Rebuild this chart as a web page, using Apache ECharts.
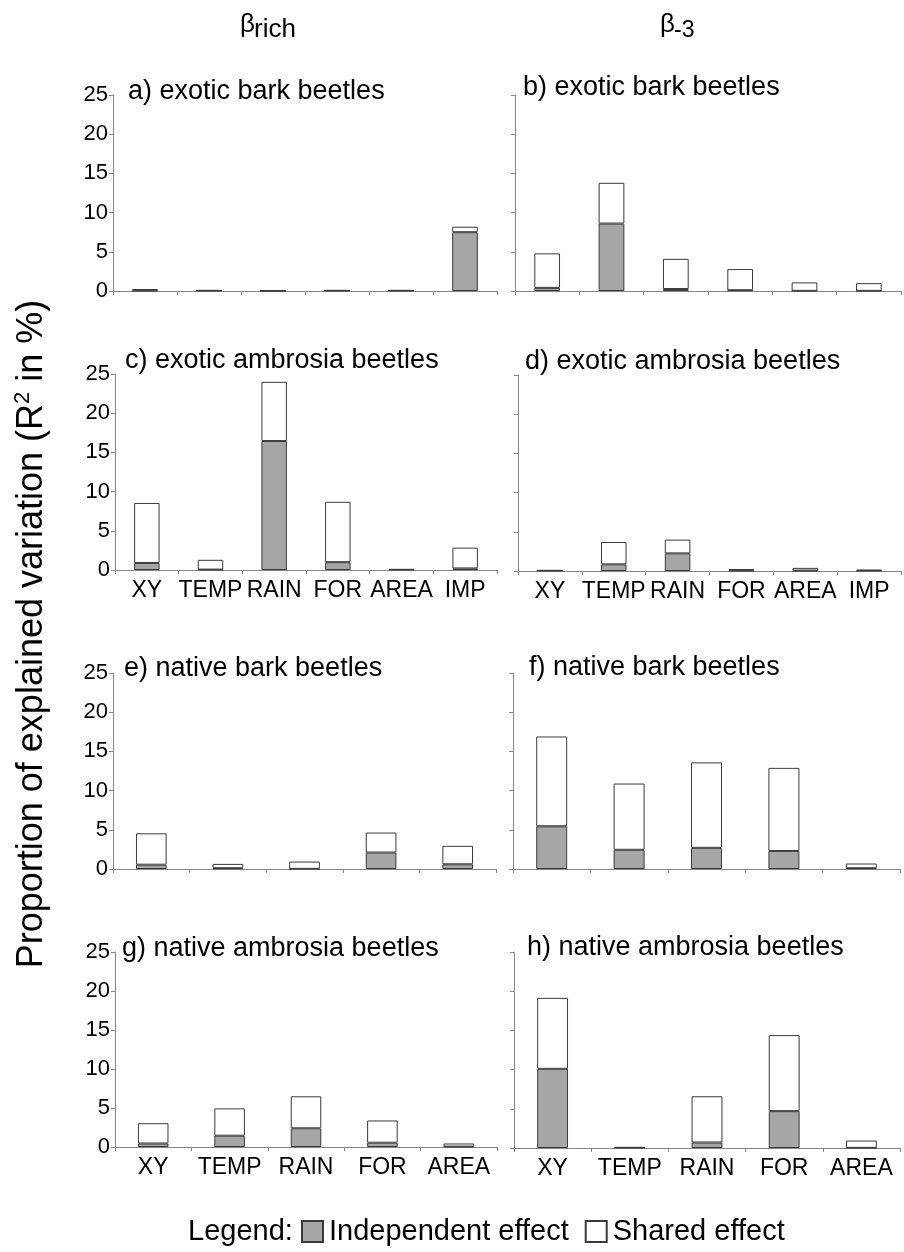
<!DOCTYPE html>
<html>
<head>
<meta charset="utf-8">
<script src="https://cdn.jsdelivr.net/npm/echarts@6/dist/echarts.min.js"></script>
<style>
  html, body { margin: 0; padding: 0; background: #ffffff; }
  #chart { width: 904px; height: 1252px; }
</style>
</head>
<body>
<div id="chart"></div>
<script>
// Predictor categories
const cats6 = ['XY', 'TEMP', 'RAIN', 'FOR', 'AREA', 'IMP'];
const cats5 = ['XY', 'TEMP', 'RAIN', 'FOR', 'AREA'];
const yTicks = [0, 5, 10, 15, 20, 25];

// Explained variation (R2 in %): independent part and shared part of each predictor
const indepA  = [0.05, 0.05, 0.02, 0.05, 0.05, 7.5];
const sharedA = [0.2, 0.05, 0.03, 0.05, 0.05, 0.7];
const indepB  = [0.4, 8.6, 0.25, 0.1, 0.02, 0.02];
const sharedB = [4.4, 5.2, 3.85, 2.7, 1.08, 0.98];
const indepC  = [0.9, 0.05, 16.45, 1.0, 0.05, 0.2];
const sharedC = [7.65, 1.25, 7.55, 7.7, 0.05, 2.65];
const indepD  = [0.05, 0.85, 2.25, 0.05, 0.05, 0.05];
const sharedD = [0.05, 2.85, 1.75, 0.2, 0.35, 0.1];
const indepE  = [0.55, 0.1, 0.02, 2.1, 0.6];
const sharedE = [4.0, 0.55, 0.93, 2.55, 2.35];
const indepF  = [5.45, 2.45, 2.7, 2.3, 0.1];
const sharedF = [11.45, 8.45, 10.9, 10.6, 0.6];
const indepG  = [0.45, 1.45, 2.4, 0.55, 0.05];
const sharedG = [2.6, 3.5, 4.1, 2.85, 0.4];
const indepH  = [10.1, 0.05, 0.7, 4.7, 0.02];
const sharedH = [9.05, 0.05, 5.9, 9.7, 0.93];

const panelTitles = [
  'a) exotic bark beetles', 'b) exotic bark beetles',
  'c) exotic ambrosia beetles', 'd) exotic ambrosia beetles',
  'e) native bark beetles', 'f) native bark beetles',
  'g) native ambrosia beetles', 'h) native ambrosia beetles'
];
const seriesNames = ['Independent effect', 'Shared effect'];

const FONT = '"Liberation Sans", Arial, Helvetica, sans-serif';
const AXIS_GREY = '#868686';
const BAR_EDGE = '#3a3a3a';
const INDEP_FILL = '#a6a6a6';

const panels = [
  { cats: cats6, indep: indepA, shared: sharedA, box: [113, 95, 384, 196], yLab: true,  xLab: false, t: [128, 92] },
  { cats: cats6, indep: indepB, shared: sharedB, box: [515, 95, 386, 196], yLab: false, xLab: false, t: [523, 88] },
  { cats: cats6, indep: indepC, shared: sharedC, box: [115, 374, 382, 196], yLab: true,  xLab: true,  t: [125, 361] },
  { cats: cats6, indep: indepD, shared: sharedD, box: [518, 375, 383, 196], yLab: false, xLab: true,  t: [525, 362] },
  { cats: cats5, indep: indepE, shared: sharedE, box: [113, 673, 383, 196], yLab: true,  xLab: false, t: [124, 669] },
  { cats: cats5, indep: indepF, shared: sharedF, box: [513, 673, 387, 196], yLab: false, xLab: false, t: [529, 668] },
  { cats: cats5, indep: indepG, shared: sharedG, box: [115, 952, 382, 195], yLab: true,  xLab: true,  t: [122, 949] },
  { cats: cats5, indep: indepH, shared: sharedH, box: [514, 952, 386, 196], yLab: false, xLab: true,  t: [527, 948] }
];

const grid = [], xAxis = [], yAxis = [], series = [], graphic = [];

panels.forEach((p, i) => {
  grid.push({ left: p.box[0], top: p.box[1], width: p.box[2], height: p.box[3] });
  xAxis.push({
    type: 'category', gridIndex: i, data: p.cats, boundaryGap: true,
    axisLine: { show: true, lineStyle: { color: AXIS_GREY, width: 1 } },
    axisTick: { show: true, alignWithLabel: false, interval: 0, length: 4, lineStyle: { color: AXIS_GREY } },
    axisLabel: { show: p.xLab, interval: 0, margin: 9, color: '#000', fontSize: 23, fontFamily: FONT },
    splitLine: { show: false }
  });
  yAxis.push({
    type: 'value', gridIndex: i, min: yTicks[0], max: yTicks[yTicks.length - 1],
    interval: yTicks[1] - yTicks[0],
    axisLine: { show: true, lineStyle: { color: AXIS_GREY, width: 1 } },
    axisTick: { show: true, length: 4, lineStyle: { color: AXIS_GREY } },
    axisLabel: { show: p.yLab, margin: 5, color: '#000', fontSize: 22, fontFamily: FONT },
    splitLine: { show: false }
  });
  series.push({
    name: seriesNames[0], type: 'bar', xAxisIndex: i, yAxisIndex: i, stack: 'p' + i,
    data: p.indep, barWidth: '40%',
    itemStyle: { color: INDEP_FILL, borderColor: BAR_EDGE, borderWidth: 1 },
    emphasis: { disabled: true }, animation: false
  });
  series.push({
    name: seriesNames[1], type: 'bar', xAxisIndex: i, yAxisIndex: i, stack: 'p' + i,
    data: p.shared, barWidth: '40%',
    itemStyle: { color: '#ffffff', borderColor: BAR_EDGE, borderWidth: 1 },
    emphasis: { disabled: true }, animation: false
  });
  graphic.push({
    type: 'text', x: p.t[0], y: p.t[1], silent: true,
    style: { text: panelTitles[i], fill: '#000', font: '27px ' + FONT, textAlign: 'left', textVerticalAlign: 'middle' }
  });
});

// Column headers
graphic.push({ type: 'text', x: 240, y: 25, silent: true,
  style: { text: 'β', fill: '#000', font: '26px ' + FONT, textAlign: 'left', textVerticalAlign: 'middle' } });
graphic.push({ type: 'text', x: 254, y: 30, silent: true,
  style: { text: 'rich', fill: '#000', font: '26px ' + FONT, textAlign: 'left', textVerticalAlign: 'middle' } });
graphic.push({ type: 'text', x: 660, y: 25, silent: true,
  style: { text: 'β', fill: '#000', font: '26px ' + FONT, textAlign: 'left', textVerticalAlign: 'middle' } });
graphic.push({ type: 'text', x: 674, y: 31, silent: true,
  style: { text: '-3', fill: '#000', font: '23px ' + FONT, textAlign: 'left', textVerticalAlign: 'middle' } });

// Shared y-axis title
graphic.push({
  type: 'text', x: 32, y: 634, rotation: Math.PI / 2, silent: true,
  style: {
    text: '{n|Proportion of explained variation (R}{s|2}{n| in %)}',
    textAlign: 'center', textVerticalAlign: 'middle', fill: '#000',
    rich: {
      n: { fontSize: 36, fontFamily: FONT, lineHeight: 40, fill: '#000' },
      s: { fontSize: 22, fontFamily: FONT, lineHeight: 20, verticalAlign: 'top', fill: '#000' }
    }
  }
});

// Legend caption
graphic.push({ type: 'text', x: 188, y: 1232, silent: true,
  style: { text: 'Legend:', fill: '#000', font: '29px ' + FONT, textAlign: 'left', textVerticalAlign: 'middle' } });

const chart = echarts.init(document.getElementById('chart'), null, { renderer: 'canvas' });
chart.setOption({
  animation: false,
  backgroundColor: '#ffffff',
  textStyle: { fontFamily: FONT },
  grid, xAxis, yAxis, series, graphic,
  legend: {
    data: seriesNames, left: 296, top: 1212, icon: 'rect',
    itemWidth: 21, itemHeight: 21, itemGap: 16, selectedMode: false,
    textStyle: { fontSize: 29, color: '#000', fontFamily: FONT, padding: [0, 0, 0, 1] }
  },
  tooltip: { show: false }
});
</script>
</body>
</html>
